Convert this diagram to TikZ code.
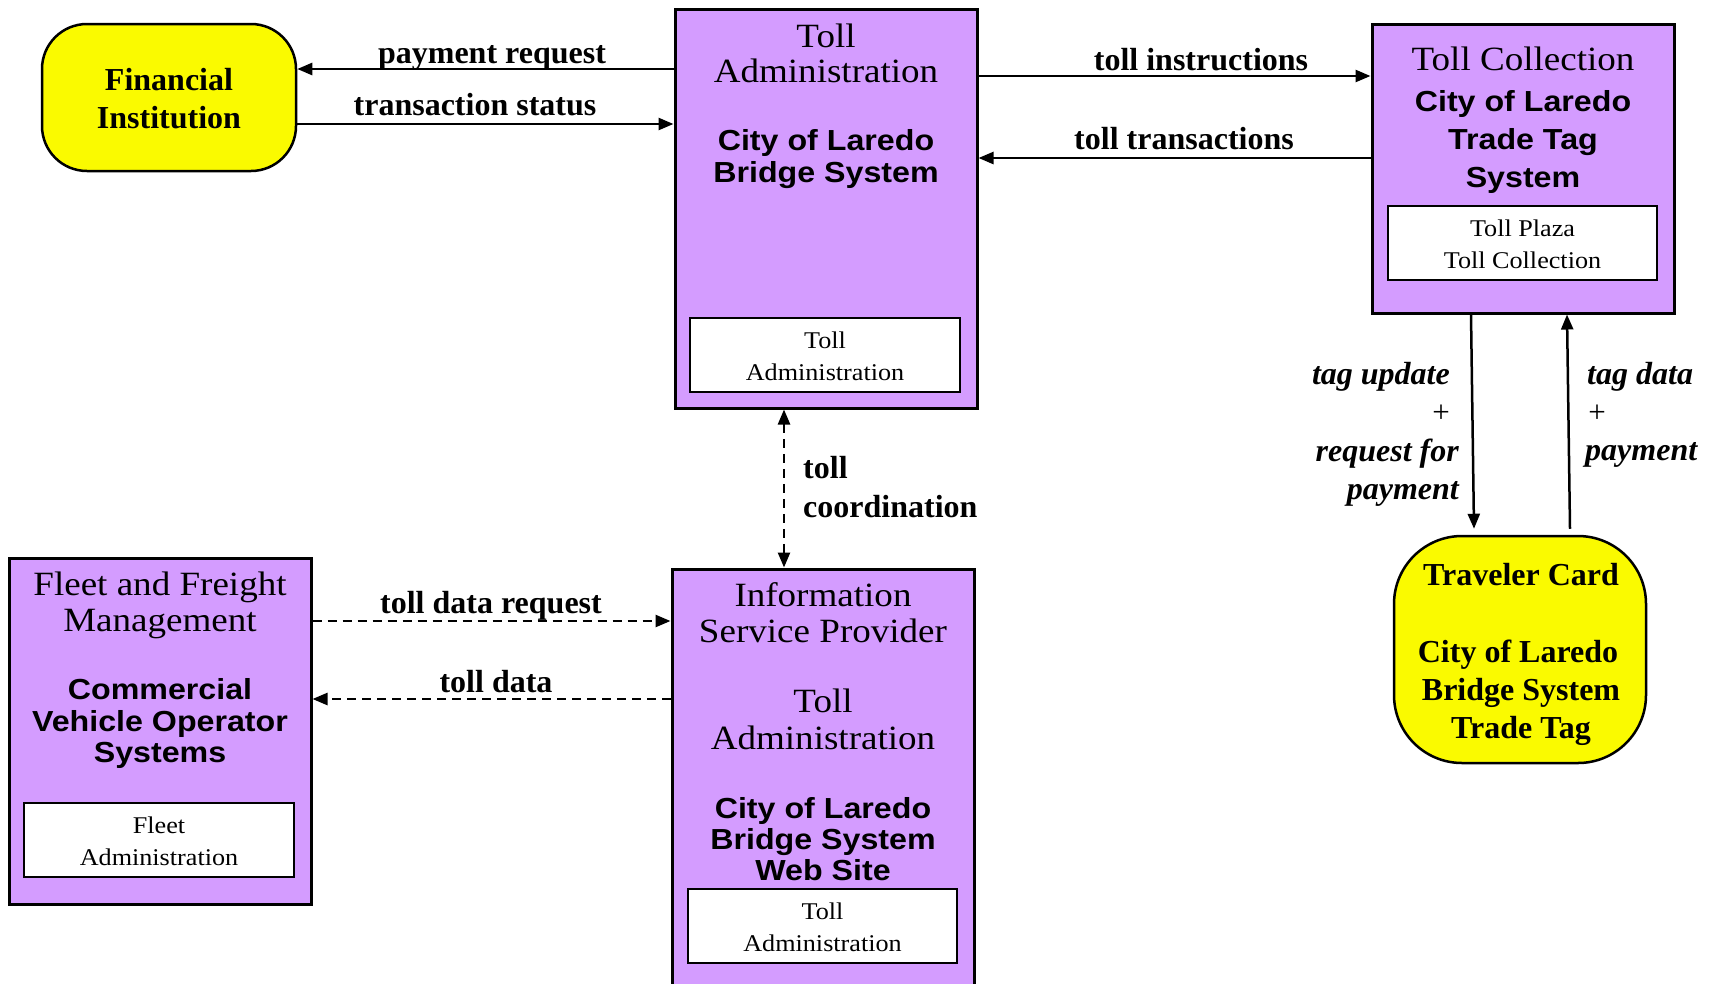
\documentclass[tikz,border=0pt]{standalone}
\usepackage{fontspec}
\setmainfont{Liberation Serif}
\newfontfamily\serifw{Liberation Serif}[FakeStretch=1.09]
\newfontfamily\sansw{Liberation Sans}[FakeStretch=1.11]
\usetikzlibrary{arrows.meta}
\definecolor{purp}{HTML}{D49CFF}
\definecolor{yel}{HTML}{FAFA00}
\tikzset{
  box/.style={draw=black, line width=3pt, fill=purp, rectangle, inner sep=0pt},
  ibox/.style={draw=black, line width=2.5pt, fill=white, rectangle, inner sep=0pt},
  ybox/.style={draw=black, line width=2.5pt, fill=yel, rectangle, inner sep=0pt},
  tip/.tip={Triangle[length=15pt,width=12pt]},
  conn/.style={line width=2.5pt, -tip},
  dconn/.style={conn, dash pattern=on 9pt off 6pt},
  txt/.style={anchor=base, inner sep=0pt},
  reg/.style={txt, font=\serifw\fontsize{34}{36}\selectfont},
  sb/.style={txt, font=\sansw\bfseries\fontsize{29}{31}\selectfont},
  sm/.style={txt, font=\serifw\fontsize{24}{26}\selectfont},
  lb/.style={txt, font=\bfseries\fontsize{32}{34}\selectfont},
  li/.style={txt, font=\bfseries\itshape\fontsize{32}{34}\selectfont},
  yb/.style={txt, font=\bfseries\fontsize{32}{34}\selectfont},
}
\begin{document}
\begin{tikzpicture}[x=1pt,y=-1pt]
\path[use as bounding box, fill=white] (0,0) rectangle (1721,983);

% ---------- boxes ----------
\node[box, minimum width=302pt, minimum height=399pt] (ta) at (826,208.5) {};
\node[ibox, minimum width=270pt, minimum height=74pt] (tai) at (825,355) {};
\node[box, minimum width=302pt, minimum height=289pt] (tc) at (1523,168.5) {};
\node[ibox, minimum width=269pt, minimum height=74pt] (tci) at (1522.5,243) {};
\node[ybox, rounded corners=45pt, minimum width=254pt, minimum height=147pt] (fi) at (169,97.5) {};
\node[ybox, rounded corners=68pt, minimum width=252pt, minimum height=227pt] (card) at (1520,649.5) {};
\node[box, minimum width=302pt, minimum height=346pt] (fleet) at (160,731) {};
\node[ibox, minimum width=270pt, minimum height=74pt] (fleeti) at (159,840) {};
\node[box, minimum width=302pt, minimum height=430pt] (isp) at (823,784) {};
\node[ibox, minimum width=269pt, minimum height=74pt] (ispi) at (822.5,926) {};

% ---------- box texts ----------
\node[reg] (ta1) at (826,47) {Toll};
\node[reg] (ta2) at (826,82) {Administration};
\node[sb] (ta3) at (826,150) {City of Laredo};
\node[sb] (ta4) at (826,182) {Bridge System};
\node[sm] (tai1) at (825,348) {Toll};
\node[sm] (tai2) at (825,380) {Administration};

\node[reg] (tc1) at (1523,70) {Toll Collection};
\node[sb] (tc2) at (1523,111) {City of Laredo};
\node[sb] (tc3) at (1523,149) {Trade Tag};
\node[sb] (tc4) at (1523,187) {System};
\node[sm] (tci1) at (1522.5,236) {Toll Plaza};
\node[sm] (tci2) at (1522.5,268) {Toll Collection};

\node[yb] (fi1) at (169,90) {Financial};
\node[yb] (fi2) at (169,128) {Institution};

\node[yb] (card1) at (1521,585) {Traveler Card};
\node[yb] (card2) at (1518,662) {City of Laredo};
\node[yb] (card3) at (1521,700) {Bridge System};
\node[yb] (card4) at (1521,738) {Trade Tag};

\node[reg] (fl1) at (160,595) {Fleet and Freight};
\node[reg] (fl2) at (160,631) {Management};
\node[sb] (fl3) at (160,699) {Commercial};
\node[sb] (fl4) at (160,731) {Vehicle Operator};
\node[sb] (fl5) at (160,762) {Systems};
\node[sm] (fli1) at (159,833) {Fleet};
\node[sm] (fli2) at (159,865) {Administration};

\node[reg] (isp1) at (823,606) {Information};
\node[reg] (isp2) at (823,642) {Service Provider};
\node[reg] (isp3) at (823,712) {Toll};
\node[reg] (isp4) at (823,749) {Administration};
\node[sb] (isp5) at (823,818) {City of Laredo};
\node[sb] (isp6) at (823,849) {Bridge System};
\node[sb] (isp7) at (823,880) {Web Site};
\node[sm] (ispi1) at (822.5,919) {Toll};
\node[sm] (ispi2) at (822.5,951) {Administration};

% ---------- connectors ----------
\draw[conn] (ta.west |- 0,69) -- (fi.east |- 0,69);
\draw[conn] (fi.east |- 0,124) -- (ta.west |- 0,124);
\draw[conn] (ta.east |- 0,76) -- (tc.west |- 0,76);
\draw[conn] (tc.west |- 0,158) -- (ta.east |- 0,158);
\draw[line width=2.5pt, dash pattern=on 9pt off 6pt, tip-tip] (ta.south -| 784,0) -- (isp.north -| 784,0);
\draw[dconn] (fleet.east |- 0,621) -- (isp.west |- 0,621);
\draw[dconn] (isp.west |- 0,699) -- (fleet.east |- 0,699);
\draw[conn] (tc.south -| 1471,0) -- ([yshift=6pt]card.north -| 1474,0);
\draw[conn] ([yshift=6pt]card.north -| 1570,0) -- (tc.south -| 1567,0);

% ---------- connector labels ----------
\node[lb] (l1) at (492,63) {payment request};
\node[lb] (l2) at (475,115) {transaction status};
\node[lb] (l3) at (1201,70) {toll instructions};
\node[lb] (l4) at (1184,149) {toll transactions};
\node[lb, anchor=base west] (l5) at (803,478) {toll};
\node[lb, anchor=base west] (l6) at (803,517) {coordination};
\node[lb] (l7) at (491,613) {toll data request};
\node[lb] (l8) at (496,692) {toll data};
\node[li, anchor=base east] (l9) at (1450,384) {tag update};
\node[txt, font=\fontsize{31}{33}\selectfont] (l10) at (1441,422) {+};
\node[li, anchor=base east] (l11) at (1459,461) {request for};
\node[li, anchor=base east] (l12) at (1459,499) {payment};
\node[li, anchor=base west] (l13) at (1587,384) {tag data};
\node[txt, font=\fontsize{31}{33}\selectfont] (l14) at (1597,422) {+};
\node[li, anchor=base west] (l15) at (1585,460) {payment};
\end{tikzpicture}
\end{document}
